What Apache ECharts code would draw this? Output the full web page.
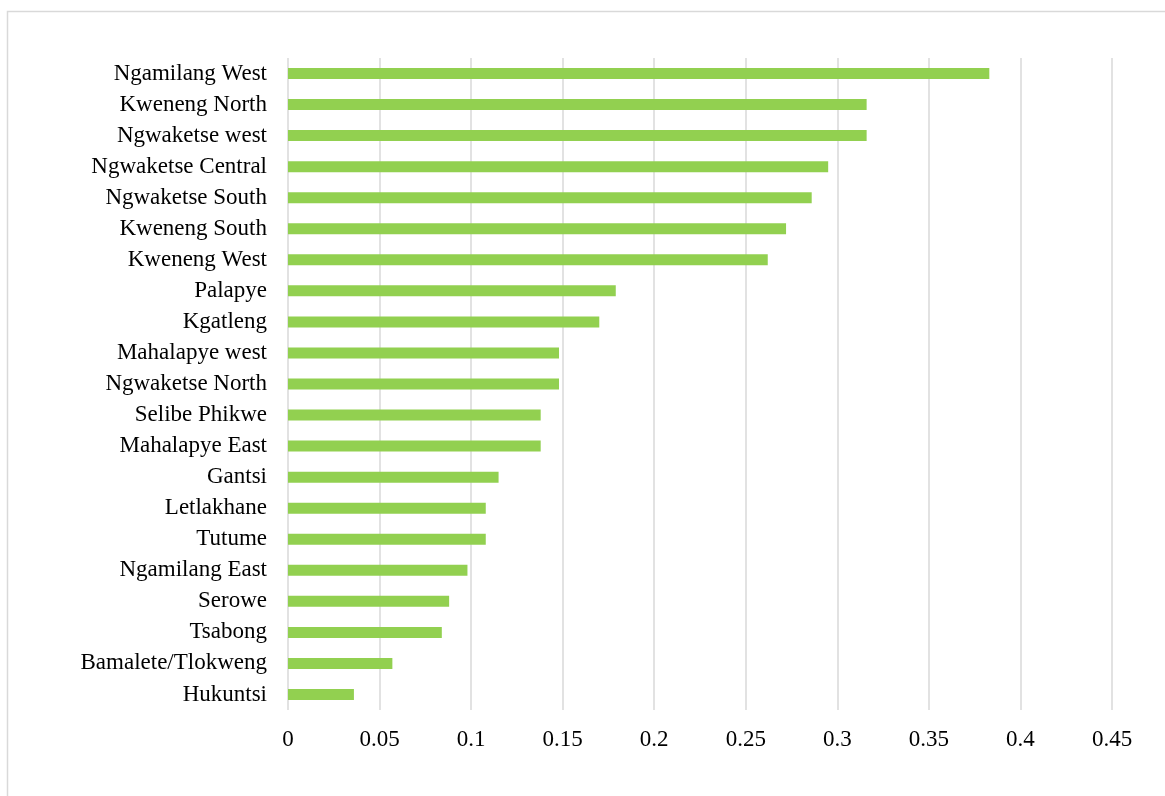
<!DOCTYPE html>
<html>
<head>
<meta charset="utf-8">
<title>Districts</title>
<script src="https://cdn.jsdelivr.net/npm/echarts@6/dist/echarts.min.js"></script>
<style>
  html, body { margin: 0; padding: 0; background: #fff; }
  #chart { width: 1165px; height: 796px; }
</style>
</head>
<body>
<div id="chart"></div>
<script>
'use strict';

// districts, top to bottom as in the picture
const districts = [
  'Ngamilang West', 'Kweneng North', 'Ngwaketse west', 'Ngwaketse Central',
  'Ngwaketse South', 'Kweneng South', 'Kweneng West', 'Palapye', 'Kgatleng',
  'Mahalapye west', 'Ngwaketse North', 'Selibe Phikwe', 'Mahalapye East',
  'Gantsi', 'Letlakhane', 'Tutume', 'Ngamilang East', 'Serowe', 'Tsabong',
  'Bamalete/Tlokweng', 'Hukuntsi'
];

const values = [
  0.383, 0.316, 0.316, 0.295, 0.286, 0.272, 0.262, 0.179, 0.170,
  0.148, 0.148, 0.138, 0.138, 0.115, 0.108, 0.108, 0.098, 0.088, 0.084,
  0.057, 0.036
];

const xTicks = [0, 0.05, 0.1, 0.15, 0.2, 0.25, 0.3, 0.35, 0.4, 0.45];

const font = '"Liberation Serif", "Times New Roman", serif';
const chart = echarts.init(document.getElementById('chart'), null, { renderer: 'canvas' });

chart.setOption({
  animation: false,
  backgroundColor: '#ffffff',
  graphic: [{
    type: 'rect',
    shape: { x: 7.5, y: 11.5, width: 1200, height: 900 },
    style: { fill: 'none', stroke: '#d9d9d9', lineWidth: 1.5 },
    silent: true
  }],
  grid: { left: 288, right: 53, top: 58, bottom: 86, containLabel: false },
  xAxis: {
    type: 'value',
    min: xTicks[0],
    max: xTicks[xTicks.length - 1],
    interval: 0.05,
    axisLine: { show: false },
    axisTick: { show: false },
    splitLine: { show: true, lineStyle: { color: '#d9d9d9', width: 1.5 } },
    axisLabel: {
      color: '#000',
      fontFamily: font,
      fontSize: 23,
      margin: 18,
      formatter: v => String(+v.toFixed(2))
    }
  },
  yAxis: {
    type: 'category',
    data: districts,
    inverse: true,
    axisLine: { show: false },
    axisTick: { show: false },
    splitLine: { show: false },
    axisLabel: {
      color: '#000', fontFamily: font, fontSize: 23, margin: 21,
      padding: [3, 0, 0, 0]
    }
  },
  series: [{
    type: 'bar',
    data: values,
    barWidth: 11,
    itemStyle: { color: '#92d050' },
    silent: true
  }]
});
</script>
</body>
</html>
